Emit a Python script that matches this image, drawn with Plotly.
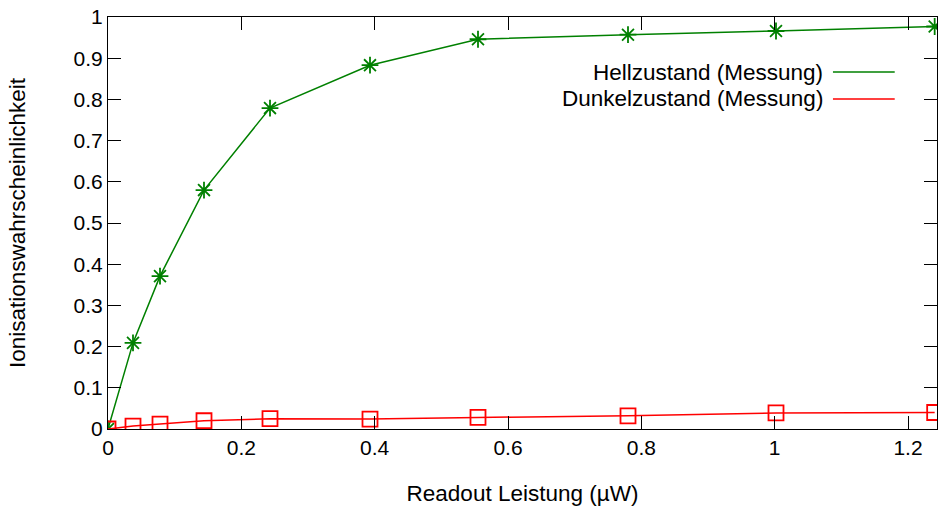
import plotly.graph_objects as go

# Readout power (µW) and measured ionisation probabilities
leistung = [0.0, 0.0375, 0.078, 0.144, 0.243, 0.393, 0.555, 0.78, 1.002, 1.24]
hell = [0.0, 0.209, 0.371, 0.580, 0.779, 0.883, 0.946, 0.957, 0.966, 0.977]
dunkel = [0.0, 0.007, 0.012, 0.020, 0.025, 0.024, 0.028, 0.032, 0.039, 0.040]

serien = [
    ("Hellzustand (Messung)", hell, "#008000", "asterisk-open", 14),
    ("Dunkelzustand (Messung)", dunkel, "#ff0000", "square-open", 15),
]

FONT = "Liberation Sans, Arial, sans-serif"
GROESSE = 22.5
fig = go.Figure()

for name, werte, farbe, symbol, groesse in serien:
    fig.add_trace(go.Scatter(
        x=leistung, y=werte, mode="lines+markers", name=name,
        line=dict(color=farbe, width=1.5),
        marker=dict(symbol=symbol, size=groesse, color=farbe,
                    line=dict(color=farbe, width=1.8)),
        showlegend=False,
    ))

# Key in gnuplot style: right-aligned text with the line sample to its right
for i, (name, werte, farbe, symbol, groesse) in enumerate(serien):
    y = 0.8665 - i * 0.0655
    fig.add_annotation(x=0.8655, y=y, xref="paper", yref="paper", text=name,
                       showarrow=False, xanchor="right", yanchor="middle",
                       font=dict(family=FONT, size=GROESSE, color="black"))
    fig.add_shape(type="line", xref="paper", yref="paper",
                  x0=0.8745, x1=0.949, y0=y, y1=y,
                  line=dict(color=farbe, width=1.5))

achse = dict(
    showline=True, linecolor="black", linewidth=1.2, mirror="ticks",
    ticks="inside", ticklen=13, tickwidth=1.2, tickcolor="black",
    showgrid=False, zeroline=False,
    tickfont=dict(family=FONT, size=21, color="black"),
)

fig.update_xaxes(range=[0, 1.2435], tickvals=[0, 0.2, 0.4, 0.6, 0.8, 1.0, 1.2],
                 ticktext=["0", "0.2", "0.4", "0.6", "0.8", "1", "1.2"],
                 title=dict(text="Readout Leistung (µW)",
                            font=dict(family=FONT, size=GROESSE, color="black"),
                            standoff=26),
                 **achse)
fig.update_yaxes(range=[0, 1],
                 tickvals=[i / 10 for i in range(11)],
                 ticktext=["0", "0.1", "0.2", "0.3", "0.4", "0.5", "0.6",
                           "0.7", "0.8", "0.9", "1"],
                 title=dict(text="Ionisationswahrscheinlichkeit",
                            font=dict(family=FONT, size=GROESSE, color="black"),
                            standoff=41),
                 **achse)

fig.update_layout(
    width=938, height=512,
    margin=dict(l=108, r=1, t=17, b=83),
    paper_bgcolor="white", plot_bgcolor="white",
    font=dict(family=FONT, size=21, color="black"),
)

fig.write_html("out.html")
